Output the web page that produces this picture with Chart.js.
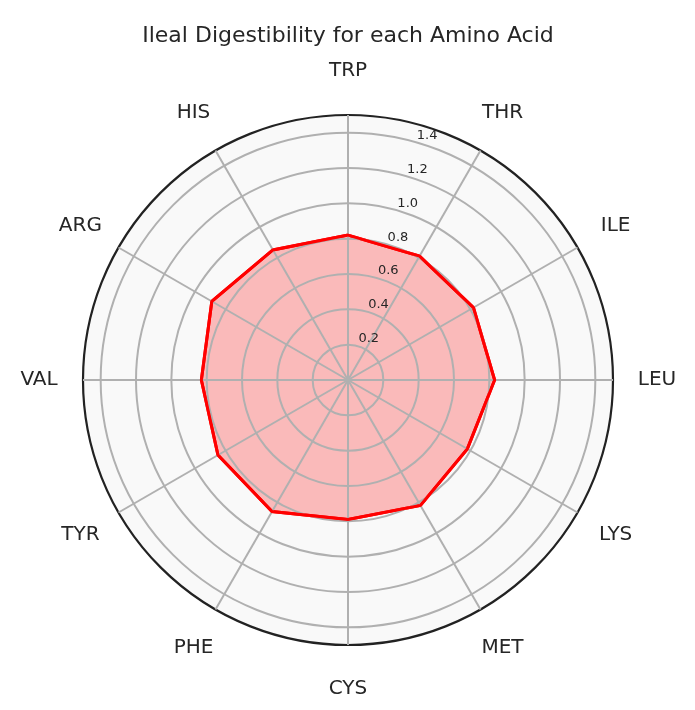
<!DOCTYPE html>
<html><head><meta charset="utf-8">
<script src="https://cdn.jsdelivr.net/npm/chart.js@4/dist/chart.umd.min.js"></script>
<style>html,body{margin:0;padding:0;background:#fff}</style>
</head><body>
<canvas id="c" width="695" height="710"></canvas>
<script>
const aminoAcids = ['TRP','THR','ILE','LEU','LYS','MET','CYS','PHE','TYR','VAL','ARG','HIS'];
const digestibility = [0.82,0.81,0.82,0.83,0.78,0.82,0.79,0.86,0.85,0.83,0.89,0.85];
const tickValues = [0.2,0.4,0.6,0.8,1.0,1.2,1.4];
const tickLabels = ['0.2','0.4','0.6','0.8','1.0','1.2','1.4'];
const rMin = 0, rMax = 1.5;
const chartTitle = 'Ileal Digestibility for each Amino Acid';

const FONT = '"DejaVu Sans", "Liberation Sans", sans-serif';
const TEXT = '#262626';

const polarDecor = {
  id: 'polarDecor',
  beforeDatasetsDraw(chart) {
    const s = chart.scales.r, ctx = chart.ctx;
    ctx.save();
    ctx.beginPath();
    ctx.arc(s.xCenter, s.yCenter, s.drawingArea, 0, Math.PI * 2);
    ctx.fillStyle = '#f9f9f9';
    ctx.fill();
    ctx.restore();
  },
  afterDraw(chart) {
    const s = chart.scales.r, ctx = chart.ctx;
    // stroke the data line again above the grid (matplotlib order)
    const meta = chart.getDatasetMeta(0);
    ctx.save();
    meta.dataset.draw(ctx, chart.chartArea);
    ctx.restore();
    // category labels
    ctx.save();
    ctx.fillStyle = TEXT;
    ctx.textAlign = 'center';
    ctx.textBaseline = 'middle';
    ctx.font = '20px ' + FONT;
    aminoAcids.forEach((lab, i) => {
      const p = s.getPointPosition(i, s.drawingArea + 44);
      ctx.fillText(lab, p.x, p.y);
    });
    // radial tick labels
    ctx.font = '13px ' + FONT;
    const a = 16 * Math.PI / 180;
    tickValues.forEach((v, i) => {
      const d = s.getDistanceFromCenterForValue(v);
      ctx.fillText(tickLabels[i], s.xCenter + d * Math.sin(a) + 11, s.yCenter - d * Math.cos(a) - 7);
    });
    ctx.restore();
  }
};

new Chart(document.getElementById('c'), {
  type: 'radar',
  data: {
    labels: aminoAcids,
    datasets: [{
      label: 'Ileal digestibility',
      data: digestibility,
      borderColor: '#ff0000',
      borderWidth: 3,
      backgroundColor: 'rgba(255,0,0,0.25)',
      fill: true,
      pointRadius: 0,
      pointHoverRadius: 0,
      tension: 0
    }]
  },
  options: {
    responsive: false,
    animation: false,
    devicePixelRatio: 1,
    layout: { padding: { left: 83, right: 82, top: 0, bottom: 65 } },
    plugins: {
      legend: { display: false },
      tooltip: { enabled: false },
      title: {
        display: true,
        text: chartTitle,
        color: TEXT,
        font: { family: FONT, size: 22, weight: 'normal' },
        padding: { top: 23, bottom: 65.6 }
      }
    },
    scales: {
      r: {
        min: rMin,
        max: rMax,
        ticks: { display: false, stepSize: 0.2 },
        pointLabels: { display: false },
        grid: {
          z: 1,
          circular: true,
          color: c => (c.tick && c.tick.value >= 1.45) ? '#222222' : '#b0b0b0',
          lineWidth: c => (c.tick && c.tick.value >= 1.45) ? 2.2 : 2
        },
        angleLines: { display: true, color: '#b0b0b0', lineWidth: 2 }
      }
    }
  },
  plugins: [polarDecor]
});
</script>
</body></html>
